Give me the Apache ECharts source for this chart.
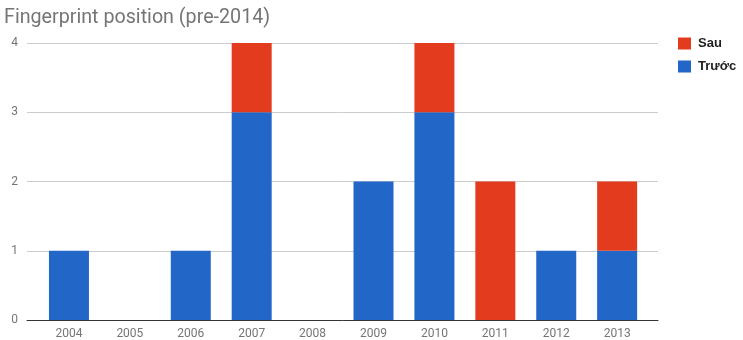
<!DOCTYPE html>
<html>
<head>
<meta charset="utf-8">
<script src="https://cdn.jsdelivr.net/npm/echarts@6/dist/echarts.min.js"></script>
<style>
html,body{margin:0;padding:0;background:#fff;}
#chart{width:743px;height:340px;}
</style>
</head>
<body>
<div id="chart"></div>
<script>
const years = ['2004','2005','2006','2007','2008','2009','2010','2011','2012','2013'];
const truoc = [1, 0, 1, 3, 0, 2, 3, 0, 1, 1];
const sau   = [0, 0, 0, 1, 0, 0, 1, 2, 0, 1];
const yTicks = [0, 1, 2, 3, 4];

const labelFont = {fontFamily: 'Roboto', fontSize: 12, color: '#757575'};
const yRange = {min: yTicks[0], max: yTicks[yTicks.length - 1], interval: 1};

const chart = echarts.init(document.getElementById('chart'), null, {renderer: 'canvas'});
chart.setOption({
  animation: false,
  title: {
    text: 'Fingerprint position (pre-2014)',
    left: -1, top: 3,
    textStyle: {fontFamily: 'Roboto', fontSize: 19.7, fontWeight: 'normal', color: '#757575'}
  },
  legend: {
    orient: 'vertical',
    left: 673, top: 32,
    icon: 'rect', itemWidth: 13, itemHeight: 12, itemGap: 10,
    data: ['Sau', 'Trước'],
    textStyle: {fontFamily: 'Liberation Sans', fontSize: 13, fontWeight: 'bold', color: '#222', padding: [0, 0, 0, 2]}
  },
  // grid 0: full-width frame for gridlines and baseline; grid 1: the bars
  grid: [
    {left: 27, right: 85, top: 43, bottom: 20},
    {left: 38.5, right: 95.4, top: 43, bottom: 20}
  ],
  xAxis: [
    {
      type: 'category', gridIndex: 0, data: [''],
      axisLine: {lineStyle: {color: '#333', width: 1}},
      axisTick: {show: false}, axisLabel: {show: false}
    },
    {
      type: 'category', gridIndex: 1, data: years,
      axisLine: {show: false},
      axisTick: {show: false},
      axisLabel: Object.assign({margin: 8}, labelFont)
    }
  ],
  yAxis: [
    Object.assign({
      type: 'value', gridIndex: 0,
      axisLine: {show: false}, axisTick: {show: false},
      splitLine: {lineStyle: {color: '#cccccc'}},
      axisLabel: Object.assign({margin: 9}, labelFont)
    }, yRange),
    Object.assign({
      type: 'value', gridIndex: 1, show: false,
      splitLine: {show: false}
    }, yRange)
  ],
  series: [
    {name: 'Trước', type: 'bar', stack: 'all', data: truoc, barWidth: 40,
     xAxisIndex: 1, yAxisIndex: 1, itemStyle: {color: '#2266c8'}},
    {name: 'Sau', type: 'bar', stack: 'all', data: sau, barWidth: 40,
     xAxisIndex: 1, yAxisIndex: 1, itemStyle: {color: '#e33b1e'}}
  ]
});
</script>
</body>
</html>
